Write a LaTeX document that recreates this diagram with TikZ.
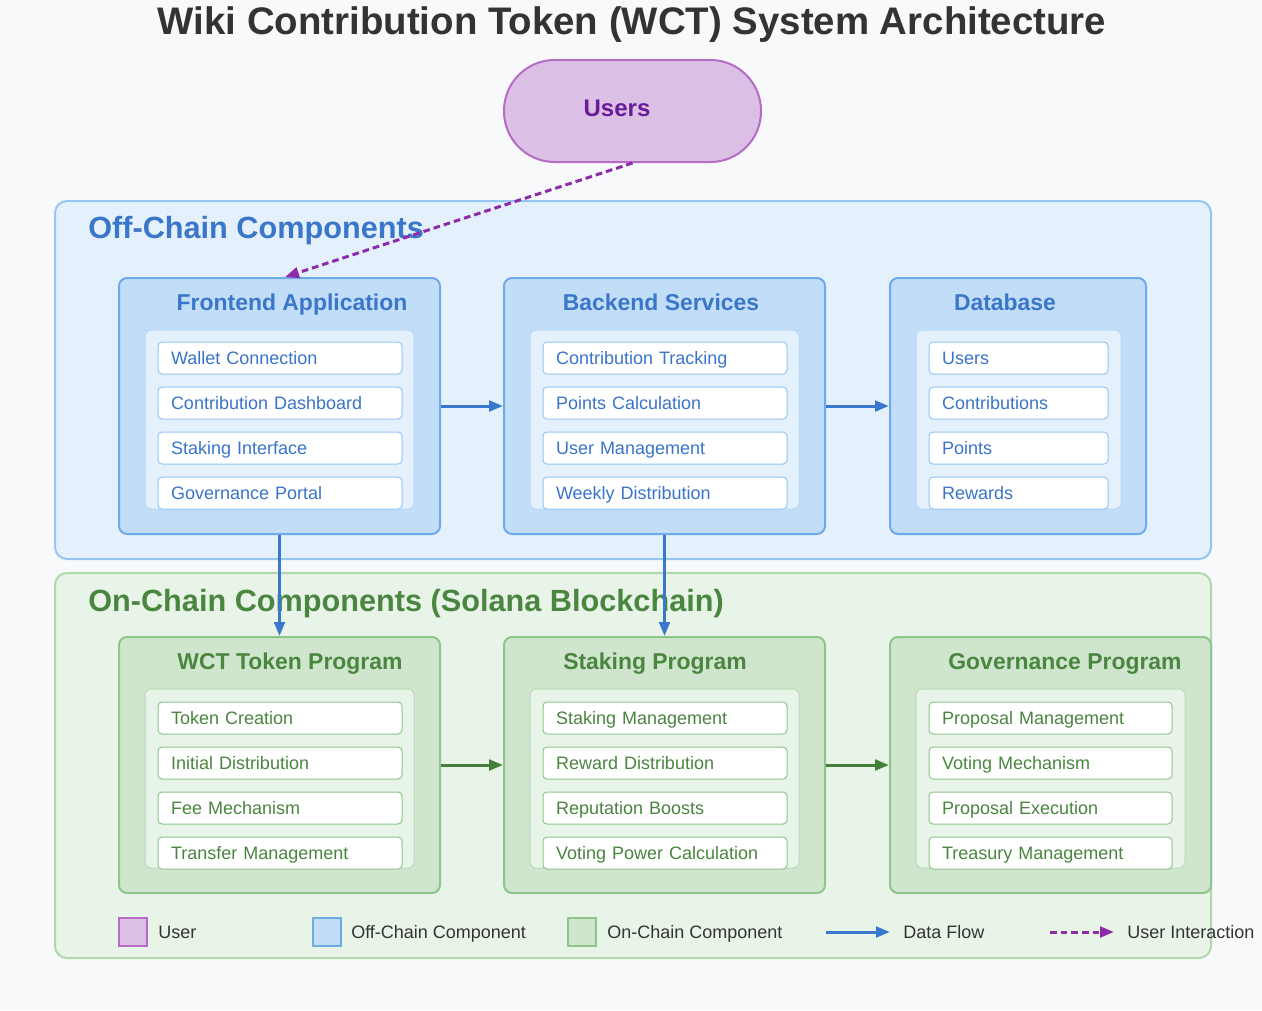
\documentclass[tikz,border=0pt]{standalone}
\usepackage{fontspec}
\setmainfont{Liberation Sans}
\usetikzlibrary{arrows.meta}
\definecolor{bgcol}{HTML}{F7F9FB}
\definecolor{userfill}{HTML}{DCBFE5}
\definecolor{userline}{HTML}{B46CC6}
\definecolor{usertext}{HTML}{6A1B9A}
\definecolor{uiline}{HTML}{8E2BA8}
\definecolor{offfill}{HTML}{E4F1FC}
\definecolor{offline}{HTML}{95C6F2}
\definecolor{offbox}{HTML}{C2DDF7}
\definecolor{offboxline}{HTML}{6FAAE8}
\definecolor{offtitle}{HTML}{3A76C9}
\definecolor{offtext}{HTML}{3A74C8}
\definecolor{offpanel}{HTML}{B8D8F5}
\definecolor{onfill}{HTML}{E8F4E8}
\definecolor{online}{HTML}{B0D7AE}
\definecolor{onbox}{HTML}{CFE5CD}
\definecolor{onboxline}{HTML}{8FC48C}
\definecolor{ontitle}{HTML}{4A863F}
\definecolor{ontext}{HTML}{4A8540}
\definecolor{onpanel}{HTML}{B9DCB7}
\definecolor{dataflow}{HTML}{3A78D0}
\definecolor{chainflow}{HTML}{437F39}
\definecolor{legtext}{HTML}{333333}
\tikzset{
  section/.style={draw=#1, line width=1.5pt, rounded corners=9pt, minimum width=867pt},
  compbox/.style={draw=#1, line width=1.5pt, rounded corners=6pt, minimum height=192pt},
  panel/.style={draw=#1, line width=0.75pt, rounded corners=4.5pt, minimum height=134.25pt},
  item/.style={draw=#1, fill=white, line width=0.75pt, rounded corners=3pt, minimum height=24pt,
    inner xsep=9.75pt, inner ysep=0pt, text height=11.5pt, text depth=1.5pt, align=left, font=\fontsize{13.5}{15}\selectfont},
  secttitle/.style={anchor=base west, inner sep=0pt, font=\fontsize{23}{26}\selectfont\bfseries},
  boxtitle/.style={text height=14pt, text depth=2pt, inner sep=0pt, font=\fontsize{17.2}{20}\selectfont\bfseries},
  legbox/.style={draw=#1, line width=1.5pt, minimum size=21pt, inner sep=0pt},
  legtxt/.style={anchor=west, inner sep=0pt, text height=11.5pt, text depth=1.5pt, text=legtext, font=\fontsize{13.5}{15}\selectfont},
  data/.style={draw=#1, line width=2.25pt, -{Triangle[length=10.5pt,width=8pt]}},
  interact/.style={draw=uiline, line width=2.25pt, dash pattern=on 5pt off 3pt, -{Triangle[length=10.5pt,width=8pt]}}
}
\begin{document}
\begin{tikzpicture}[x=0.75pt, y=-0.75pt]
\fill[bgcol] (0,0) rectangle (1262,1010);
\useasboundingbox (0,0) rectangle (1262,1010);
\node[text=legtext, font=\fontsize{28.8}{32}\selectfont\bfseries] (title) at (632,25) {Wiki Contribution Token (WCT) System Architecture};

\node[draw=userline, fill=userfill, line width=1.5pt, rounded corners=38pt, minimum width=192.75pt, minimum height=76.5pt] (users) at (632.5,111) {};
\node[text=usertext, font=\fontsize{18}{22}\selectfont\bfseries] (userstxt) at (617,108) {Users};

\node[section=offline, fill=offfill, minimum height=268.5pt] (offchain) at (633,380) {};
\node[secttitle, text=offtitle] (offlabel) at (88,238) {Off-Chain Components};
\node[section=online, fill=onfill, minimum height=288.75pt] (onchain) at (633,765.5) {};
\node[secttitle, text=ontitle] (onlabel) at (88,611) {On-Chain Components (Solana Blockchain)};

\node[compbox=offboxline, fill=offbox, minimum width=240.75pt] (front) at (279.5,406) {};
\node[compbox=offboxline, fill=offbox, minimum width=240.75pt] (back) at (664.5,406) {};
\node[compbox=offboxline, fill=offbox, minimum width=192pt] (db) at (1018,406) {};
\node[boxtitle, text=offtitle] (fronttitle) at (292,302) {Frontend Application};
\node[boxtitle, text=offtitle] (backtitle) at (661,302) {Backend Services};
\node[boxtitle, text=offtitle] (dbtitle) at (1005,302) {Database};
\node[panel=offpanel, fill=offfill, minimum width=201.75pt] (frontpanel) at (279.5,419.5) {};
\node[panel=offpanel, fill=offfill, minimum width=201.75pt] (backpanel) at (664.5,419.5) {};
\node[panel=offpanel, fill=offfill, minimum width=153.75pt] (dbpanel) at (1018.5,419.5) {};
\foreach \t [count=\i] in {Wallet Connection,Contribution Dashboard,Staking Interface,Governance Portal}
  \node[item=offline, text=offtext, text width=163.5pt] (fe\i) at (280,{313+45*\i}) {\t};
\foreach \t [count=\i] in {Contribution Tracking,Points Calculation,User Management,Weekly Distribution}
  \node[item=offline, text=offtext, text width=163.5pt] (be\i) at (665,{313+45*\i}) {\t};
\foreach \t [count=\i] in {Users,Contributions,Points,Rewards}
  \node[item=offline, text=offtext, text width=114.75pt] (db\i) at (1018.5,{313+45*\i}) {\t};

\node[compbox=onboxline, fill=onbox, minimum width=240.75pt] (wct) at (279.5,765) {};
\node[compbox=onboxline, fill=onbox, minimum width=240.75pt] (stake) at (664.5,765) {};
\node[compbox=onboxline, fill=onbox, minimum width=240.75pt] (gov) at (1050.5,765) {};
\node[boxtitle, text=ontitle] (wcttitle) at (290,661) {WCT Token Program};
\node[boxtitle, text=ontitle] (staketitle) at (655,661) {Staking Program};
\node[boxtitle, text=ontitle] (govtitle) at (1065,661) {Governance Program};
\node[panel=onpanel, fill=onfill, minimum width=201.75pt] (wctpanel) at (279.5,778.5) {};
\node[panel=onpanel, fill=onfill, minimum width=201.75pt] (stakepanel) at (664.5,778.5) {};
\node[panel=onpanel, fill=onfill, minimum width=201.75pt] (govpanel) at (1050.5,778.5) {};
\foreach \t [count=\i] in {Token Creation,Initial Distribution,Fee Mechanism,Transfer Management}
  \node[item=onboxline, text=ontext, text width=163.5pt] (wc\i) at (280,{673+45*\i}) {\t};
\foreach \t [count=\i] in {Staking Management,Reward Distribution,Reputation Boosts,Voting Power Calculation}
  \node[item=onboxline, text=ontext, text width=163.5pt] (sp\i) at (665,{673+45*\i}) {\t};
\foreach \t [count=\i] in {Proposal Management,Voting Mechanism,Proposal Execution,Treasury Management}
  \node[item=onboxline, text=ontext, text width=162.75pt] (gp\i) at (1050.5,{673+45*\i}) {\t};

\draw[data=dataflow] (front) -- (back);
\draw[data=dataflow] (back) -- (db);
\draw[data=dataflow] (front) -- (wct);
\draw[data=dataflow] (back) -- (stake);
\draw[data=chainflow] (wct) -- (stake);
\draw[data=chainflow] (stake) -- (gov);
\coordinate (uitarget) at (285,277);
\draw[interact] (users.south) -- (uitarget);

\node[legbox=userline, fill=userfill] (leguser) at (133,932) {};
\node[legtxt] (legusertxt) at (158,932) {User};
\node[legbox=offboxline, fill=offbox] (legoff) at (327,932) {};
\node[legtxt] (legofftxt) at (351,932) {Off-Chain Component};
\node[legbox=onboxline, fill=onbox] (legon) at (582,932) {};
\node[legtxt] (legontxt) at (607,932) {On-Chain Component};
\coordinate (dfa) at (826,932);
\coordinate (dfb) at (890,932);
\draw[data=dataflow] (dfa) -- (dfb);
\node[legtxt] (legdftxt) at (903,932) {Data Flow};
\coordinate (uia) at (1050,932);
\coordinate (uib) at (1114,932);
\draw[interact] (uia) -- (uib);
\node[legtxt] (leguitxt) at (1127,932) {User Interaction};
\end{tikzpicture}
\end{document}
